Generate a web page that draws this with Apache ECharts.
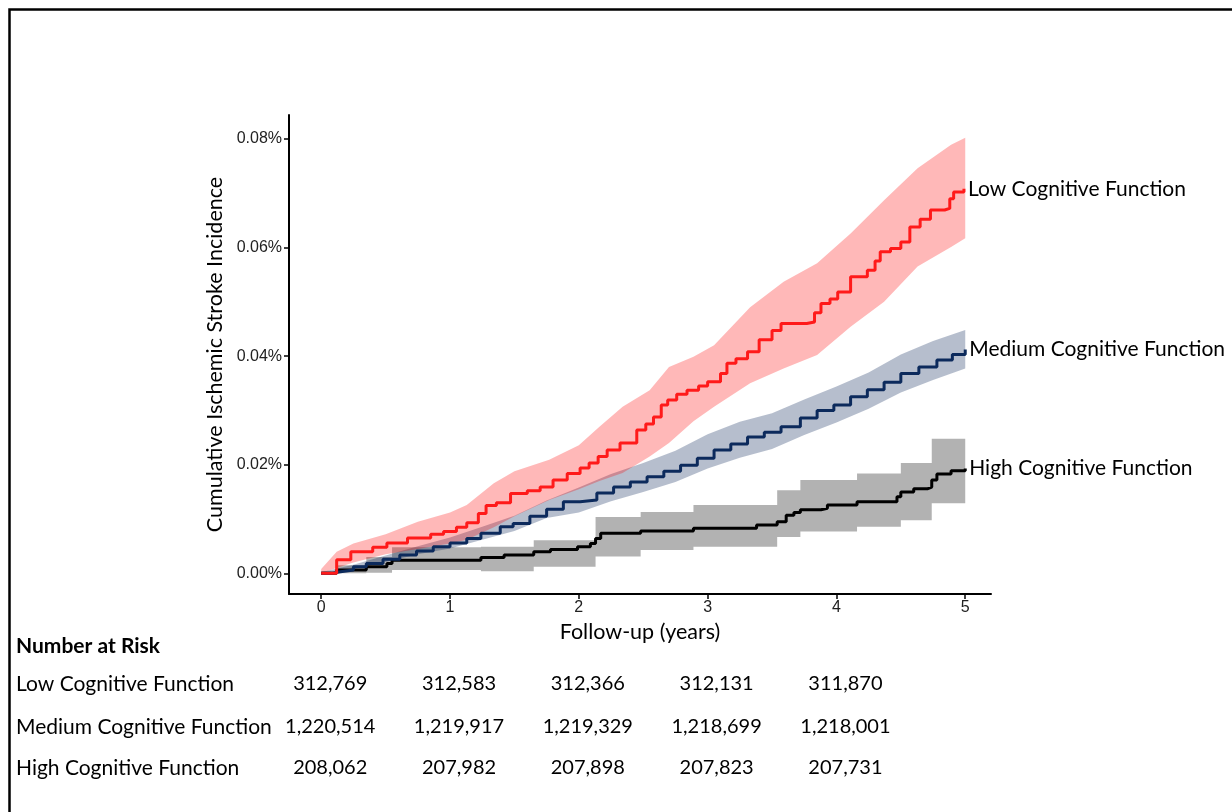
<!DOCTYPE html>
<html lang="en">
<head>
  <meta charset="UTF-8">
  <title>Cumulative Ischemic Stroke Incidence</title>
  <style>
    * { margin: 0; padding: 0; }
    body { background: #fff; }
  </style>
  <script src="https://cdn.jsdelivr.net/npm/echarts@6/dist/echarts.min.js"></script>
</head>
<body>
  <div id="main" style="width: 1232px; height: 812px;"></div>
  <script>
    // groups and tick values
    const groups = ['Low Cognitive Function', 'Medium Cognitive Function', 'High Cognitive Function']
    const yearTicks = [0, 1, 2, 3, 4, 5]
    const pctTicks = [0, 0.02, 0.04, 0.06, 0.08]

    // cumulative incidence (%), [year, value]
    const lowLine = [[0, 0], [0.12, 0.0025], [0.23, 0.004], [0.4, 0.0048], [0.51, 0.0056], [0.67, 0.0065], [0.85, 0.0072], [0.95, 0.0077],
      [1.05, 0.0085], [1.13, 0.0093], [1.22, 0.011], [1.28, 0.0125], [1.36, 0.013], [1.47, 0.0147], [1.6, 0.0152], [1.7, 0.0159],
      [1.8, 0.0172], [1.91, 0.0184], [2.01, 0.0194], [2.08, 0.0203], [2.15, 0.0215], [2.22, 0.0227], [2.32, 0.024], [2.45, 0.0264],
      [2.52, 0.0275], [2.58, 0.0288], [2.64, 0.031], [2.69, 0.0319], [2.76, 0.033], [2.84, 0.0337], [2.93, 0.0345], [3.0, 0.0353],
      [3.1, 0.0368], [3.15, 0.0387], [3.22, 0.0395], [3.31, 0.0408], [3.4, 0.043], [3.5, 0.0447], [3.57, 0.046], [3.77, 0.0463],
      [3.83, 0.048], [3.88, 0.0497], [3.95, 0.0505], [4.01, 0.0518], [4.11, 0.0546], [4.24, 0.0558], [4.3, 0.0575], [4.34, 0.0592],
      [4.42, 0.0598], [4.5, 0.061], [4.57, 0.0638], [4.65, 0.0652], [4.73, 0.0669], [4.84, 0.0672], [4.88, 0.069], [4.91, 0.0702], [4.99, 0.0708]]
    const mediumLine = [[0, 0], [0.08, 0.0003], [0.15, 0.0006], [0.25, 0.0012], [0.35, 0.0018], [0.48, 0.0026], [0.61, 0.0034], [0.74, 0.0041],
      [0.87, 0.0049], [1.0, 0.0056], [1.13, 0.0064], [1.24, 0.0074], [1.39, 0.0086], [1.49, 0.0092], [1.62, 0.0105], [1.75, 0.0118],
      [1.88, 0.0132], [2.01, 0.0135], [2.14, 0.0148], [2.27, 0.0159], [2.4, 0.0168], [2.53, 0.0178], [2.66, 0.0188], [2.79, 0.0199],
      [2.92, 0.0212], [3.05, 0.0227], [3.18, 0.0238], [3.31, 0.0251], [3.44, 0.026], [3.57, 0.027], [3.72, 0.0286], [3.85, 0.03],
      [3.98, 0.031], [4.11, 0.0325], [4.24, 0.0338], [4.37, 0.0352], [4.5, 0.0368], [4.64, 0.038], [4.78, 0.0393], [4.9, 0.0403], [5.0, 0.0412]]
    const highLine = [[0, 0], [0.12, 0.0006], [0.35, 0.0012], [0.51, 0.0018], [0.55, 0.0024], [1.24, 0.0029], [1.42, 0.0034], [1.65, 0.004],
      [1.78, 0.0044], [1.99, 0.0049], [2.09, 0.0055], [2.13, 0.0064], [2.17, 0.0074], [2.48, 0.0078], [2.89, 0.0083], [3.38, 0.0089],
      [3.54, 0.0095], [3.61, 0.0107], [3.67, 0.0112], [3.72, 0.0117], [3.88, 0.012], [3.93, 0.0126], [4.16, 0.0132], [4.47, 0.0141],
      [4.5, 0.015], [4.6, 0.0156], [4.71, 0.0159], [4.74, 0.0172], [4.78, 0.0183], [4.89, 0.0189], [5.0, 0.0193]]

    // confidence bands, [year, lower, upper]
    const lowBand = [[0, 0, 0.0008], [0.12, 0.001, 0.004], [0.25, 0.002, 0.0055], [0.5, 0.0035, 0.0072], [0.75, 0.0045, 0.0095],
      [1.0, 0.0055, 0.0112], [1.13, 0.0062, 0.0126], [1.34, 0.0085, 0.0166], [1.5, 0.0105, 0.0188], [1.77, 0.0135, 0.0209],
      [2.0, 0.0155, 0.0236], [2.16, 0.017, 0.027], [2.34, 0.0185, 0.0307], [2.55, 0.0215, 0.0337], [2.7, 0.024, 0.038],
      [2.89, 0.028, 0.0399], [3.05, 0.0307, 0.042], [3.33, 0.035, 0.049], [3.59, 0.0377, 0.0537], [3.85, 0.0402, 0.0571],
      [4.11, 0.0454, 0.0626], [4.37, 0.05, 0.0687], [4.63, 0.0565, 0.0746], [4.89, 0.0601, 0.0789], [5.0, 0.0617, 0.0802]]
    const mediumBand = [[0, 0, 0.0002], [0.25, 0.0008, 0.0016], [0.5, 0.0021, 0.0033], [0.75, 0.0035, 0.005], [1.0, 0.0046, 0.0066],
      [1.25, 0.0062, 0.0086], [1.5, 0.0078, 0.0106], [1.75, 0.0102, 0.0134], [2.0, 0.0112, 0.0158], [2.25, 0.0133, 0.0183],
      [2.5, 0.015, 0.0203], [2.75, 0.0168, 0.0226], [3.0, 0.0193, 0.0256], [3.25, 0.0213, 0.0279], [3.5, 0.0229, 0.0295],
      [3.75, 0.0255, 0.032], [4.0, 0.0278, 0.0344], [4.25, 0.0303, 0.037], [4.5, 0.0333, 0.0403], [4.75, 0.0356, 0.0428], [5.0, 0.0377, 0.0448]]
    const highBand = [[0, 0, 0.0003], [0.12, 0, 0.0015], [0.35, 0.0001, 0.003], [0.55, 0.0006, 0.0048], [1.24, 0.0004, 0.0049],
      [1.65, 0.0012, 0.0061], [2.13, 0.0031, 0.0104], [2.48, 0.0043, 0.0113], [2.89, 0.0049, 0.0126], [3.54, 0.0067, 0.0153],
      [3.72, 0.0077, 0.0172], [4.16, 0.0086, 0.0184], [4.5, 0.0098, 0.0203], [4.74, 0.0129, 0.0248], [5.0, 0.0129, 0.0251]]

    // number at risk table
    const riskYears = [0, 1, 2, 3, 4]
    const lowRisk = ['312,769', '312,583', '312,366', '312,131', '311,870']
    const mediumRisk = ['1,220,514', '1,219,917', '1,219,329', '1,218,699', '1,218,001']
    const highRisk = ['208,062', '207,982', '207,898', '207,823', '207,731']

    const font = 'Lato, "Open Sans", sans-serif'
    const tickFont = '"Liberation Sans", Arial, sans-serif'
    const chart = echarts.init(document.getElementById('main'))

    // band drawn as one polygon through the axis coords
    function bandSeries(band, color, stepped) {
      return {
        type: 'custom', silent: true, z: 1,
        data: band,
        encode: { x: 0, y: [1, 2] },
        renderItem: (params, api) => {
          if (params.dataIndex !== 0) return
          const up = [], lo = []
          band.forEach((d, i) => {
            up.push(api.coord([d[0], d[2]]))
            lo.push(api.coord([d[0], d[1]]))
            if (stepped && i < band.length - 1) {
              up.push(api.coord([band[i + 1][0], d[2]]))
              lo.push(api.coord([band[i + 1][0], d[1]]))
            }
          })
          return { type: 'polygon', shape: { points: up.concat(lo.reverse()) }, style: { fill: color } }
        }
      }
    }

    function curveSeries(name, data, color) {
      return {
        type: 'line', name, data, step: 'end', symbol: 'none', z: 3,
        lineStyle: { width: 3, color },
        endLabel: { show: true, formatter: name, fontSize: 21, fontFamily: font, color: '#000', distance: 4 }
      }
    }

    const option = {
      animation: false,
      backgroundColor: '#fff',
      grid: { left: 289, right: 241, top: 115, bottom: 218 },
      xAxis: {
        type: 'value', min: -0.25, max: 5.2,
        name: 'Follow-up (years)', nameLocation: 'middle', nameGap: 23,
        nameTextStyle: { fontSize: 21.5, fontFamily: font, color: '#000' },
        axisLine: { onZero: false, lineStyle: { color: '#000', width: 2 } },
        axisTick: { customValues: yearTicks, length: 5, lineStyle: { color: '#000', width: 1.5 } },
        axisLabel: { customValues: yearTicks, fontSize: 16, fontFamily: tickFont, color: '#222', margin: 6 },
        splitLine: { show: false }
      },
      yAxis: {
        type: 'value', min: -0.0038, max: 0.0844,
        name: 'Cumulative Ischemic Stroke Incidence', nameLocation: 'middle', nameGap: 52, nameRotate: 90,
        nameTextStyle: { fontSize: 21.5, fontFamily: font, color: '#000' },
        axisLine: { show: true, onZero: false, lineStyle: { color: '#000', width: 2 } },
        axisTick: { show: true, customValues: pctTicks, length: 5, lineStyle: { color: '#000', width: 1.5 } },
        axisLabel: { customValues: pctTicks, fontSize: 16, fontFamily: tickFont, color: '#222', margin: 7, formatter: v => v.toFixed(2) + '%' },
        splitLine: { show: false }
      },
      series: [
        bandSeries(highBand, 'rgba(0,0,0,0.3)', true),
        curveSeries(groups[2], highLine, '#000'),
        bandSeries(mediumBand, 'rgba(12,40,90,0.3)', false),
        curveSeries(groups[1], mediumLine, '#0c2a5c'),
        bandSeries(lowBand, 'rgba(255,0,0,0.28)', false),
        curveSeries(groups[0], lowLine, '#ff1a1a')
      ]
    }
    chart.setOption(option)

    // frame and number-at-risk table
    const graphic = [
      { type: 'polyline', shape: { points: [[9.5, 812], [9.5, 9.5], [1232, 9.5]] }, style: { stroke: '#000', lineWidth: 2.5, fill: null } },
      { type: 'text', x: 16, y: 646, style: { text: 'Number at Risk', font: 'bold 21px ' + font, fill: '#000', verticalAlign: 'middle' } }
    ]
    const rows = [[groups[0], lowRisk, 684], [groups[1], mediumRisk, 727], [groups[2], highRisk, 768]]
    rows.forEach(([label, vals, y]) => {
      graphic.push({ type: 'text', x: 16, y, style: { text: label, font: '21px ' + font, fill: '#000', verticalAlign: 'middle' } })
      riskYears.forEach((yr, i) => {
        const px = chart.convertToPixel({ xAxisIndex: 0 }, yr) + 9
        graphic.push({ type: 'text', x: px, y, style: { text: vals[i], font: '20px ' + font, fill: '#000', align: 'center', verticalAlign: 'middle' } })
      })
    })
    chart.setOption({ graphic })
  </script>
</body>
</html>
